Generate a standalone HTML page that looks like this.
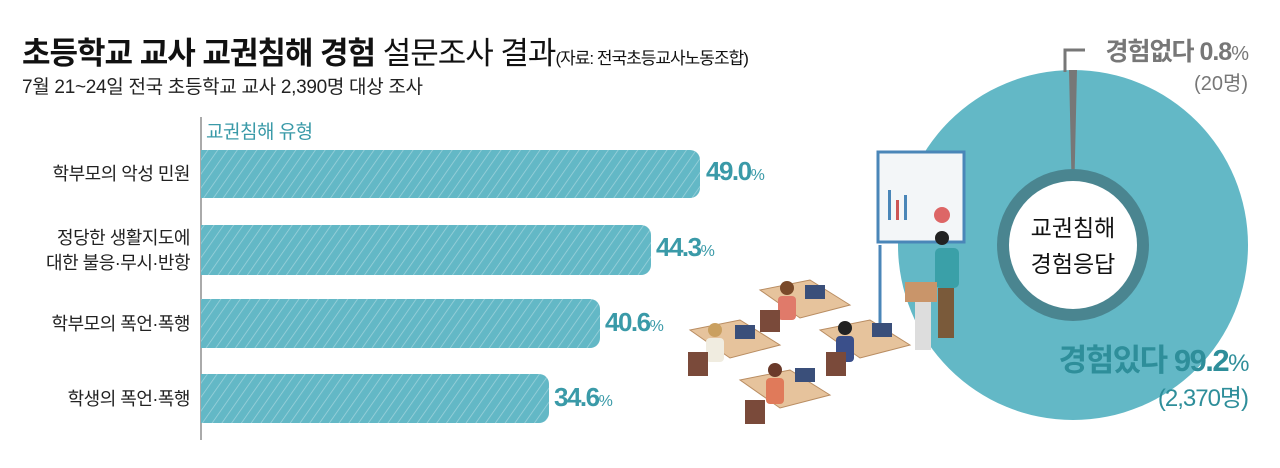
<!DOCTYPE html>
<html><head><meta charset="utf-8"><style>
body{margin:0;width:1280px;height:468px;background:#fff;overflow:hidden;position:relative;font-family:"Liberation Sans","Noto Sans CJK KR",sans-serif;}
.a{position:absolute;white-space:nowrap;}
</style></head><body>
<div class="a" style="left:22px;top:28px;font-size:31px;font-weight:bold;color:#111;letter-spacing:-1px">초등학교 교사 교권침해 경험 <span style="font-weight:normal">설문조사 결과</span><span style="font-weight:normal;font-size:17px;letter-spacing:-1px">(자료: 전국초등교사노동조합)</span></div>
<div class="a" style="left:22px;top:72px;font-size:19px;color:#222;letter-spacing:-0.3px">7월 21~24일 전국 초등학교 교사 2,390명 대상 조사</div>
<div class="a" style="left:206px;top:117px;font-size:19px;color:#3a9aa8;letter-spacing:-0.5px">교권침해 유형</div>
<svg class="a" style="left:0;top:0" width="1280" height="468">
<defs><pattern id="h" width="8" height="8" patternUnits="userSpaceOnUse" patternTransform="rotate(35)"><rect width="8" height="8" fill="#63b8c6"/><line x1="0" y1="0" x2="0" y2="8" stroke="#9fd3dc" stroke-width="1.5"/></pattern></defs>
<line x1="201" y1="117" x2="201" y2="440" stroke="#555" stroke-width="1"/>
<path d="M201 150H690a10 10 0 0 1 10 10V188a10 10 0 0 1-10 10H201Z" fill="url(#h)"/>
<path d="M201 225H641a10 10 0 0 1 10 10V265a10 10 0 0 1-10 10H201Z" fill="url(#h)"/>
<path d="M201 299H590a10 10 0 0 1 10 10V338a10 10 0 0 1-10 10H201Z" fill="url(#h)"/>
<path d="M201 374H539a10 10 0 0 1 10 10V413a10 10 0 0 1-10 10H201Z" fill="url(#h)"/>
<circle cx="1073" cy="245" r="175" fill="#63b8c6"/>
<path d="M1073 245L1069 70L1077 70Z" fill="#777"/>
<polyline points="1065,72 1065,50 1085,50" fill="none" stroke="#777" stroke-width="3"/>
<circle cx="1073" cy="245" r="76" fill="#4a8590"/>
<circle cx="1073" cy="245" r="64" fill="#fff"/>
<rect x="878" y="152" width="86" height="90" fill="#f3f6f8" stroke="#4a86b8" stroke-width="3"/>
<rect x="888" y="190" width="3" height="30" fill="#4a86b8"/><rect x="896" y="200" width="3" height="20" fill="#c55"/><rect x="904" y="195" width="3" height="25" fill="#4a86b8"/>
<circle cx="942" cy="215" r="8" fill="#d66"/>
<line x1="880" y1="245" x2="880" y2="330" stroke="#4a86b8" stroke-width="3"/>
<circle cx="942" cy="238" r="7" fill="#222"/>
<rect x="935" y="248" width="24" height="40" rx="5" fill="#3aa0a8"/>
<rect x="938" y="288" width="16" height="50" fill="#7a5a3a"/>
<rect x="905" y="282" width="32" height="20" fill="#c9956a"/>
<rect x="915" y="302" width="16" height="48" fill="#ddd"/>
<g fill="#e6c39c" stroke="#b98d62" stroke-width="1">
<polygon points="760,290 810,280 850,305 800,318"/>
<polygon points="690,330 740,320 780,345 730,358"/>
<polygon points="820,330 870,320 910,345 860,358"/>
<polygon points="740,380 790,370 830,395 780,408"/>
</g>
<g fill="#3a4f7a"><rect x="805" y="285" width="20" height="14"/><rect x="735" y="325" width="20" height="14"/><rect x="872" y="323" width="20" height="14"/><rect x="795" y="368" width="20" height="14"/></g>
<circle cx="787" cy="288" r="7" fill="#7a4a2a"/><rect x="778" y="296" width="18" height="24" rx="4" fill="#e07a6a"/>
<circle cx="715" cy="330" r="7" fill="#caa060"/><rect x="706" y="338" width="18" height="24" rx="4" fill="#f0ece0"/>
<circle cx="845" cy="328" r="7" fill="#222"/><rect x="836" y="336" width="18" height="26" rx="4" fill="#3a4f8a"/>
<circle cx="775" cy="370" r="7" fill="#6a3a2a"/><rect x="766" y="378" width="18" height="26" rx="4" fill="#e07a5a"/>
<g fill="#7a4a3a"><rect x="760" y="310" width="20" height="22"/><rect x="688" y="352" width="20" height="24"/><rect x="826" y="352" width="20" height="24"/><rect x="745" y="400" width="20" height="24"/></g>
</svg>
<div class="a" style="left:0;width:190px;text-align:right;top:160px;font-size:18px;color:#222;letter-spacing:-0.5px">학부모의 악성 민원</div>
<div class="a" style="left:0;width:190px;text-align:right;top:226px;font-size:18px;color:#222;letter-spacing:-0.5px;line-height:25px">정당한 생활지도에<br>대한 불응·무시·반항</div>
<div class="a" style="left:0;width:190px;text-align:right;top:310px;font-size:18px;color:#222;letter-spacing:-0.5px">학부모의 폭언·폭행</div>
<div class="a" style="left:0;width:190px;text-align:right;top:385px;font-size:18px;color:#222;letter-spacing:-0.5px">학생의 폭언·폭행</div>
<div class="a" style="left:706px;top:156px;font-size:26px;font-weight:bold;color:#3a9aa8;letter-spacing:-1.5px">49.0<span style="font-size:16px;font-weight:normal">%</span></div>
<div class="a" style="left:656px;top:232px;font-size:26px;font-weight:bold;color:#3a9aa8;letter-spacing:-1.5px">44.3<span style="font-size:16px;font-weight:normal">%</span></div>
<div class="a" style="left:605px;top:307px;font-size:26px;font-weight:bold;color:#3a9aa8;letter-spacing:-1.5px">40.6<span style="font-size:16px;font-weight:normal">%</span></div>
<div class="a" style="left:554px;top:382px;font-size:26px;font-weight:bold;color:#3a9aa8;letter-spacing:-1.5px">34.6<span style="font-size:16px;font-weight:normal">%</span></div>
<div class="a" style="right:32px;top:32px;font-size:25px;font-weight:bold;color:#777;letter-spacing:-1px">경험없다 0.8<span style="font-weight:normal;font-size:20px">%</span></div>
<div class="a" style="right:32px;top:67px;font-size:20px;color:#777">(20명)</div>
<div class="a" style="left:1013px;top:210px;width:120px;text-align:center;font-size:23px;color:#111;line-height:36px">교권침해<br>경험응답</div>
<div class="a" style="right:32px;top:335px;font-size:31px;font-weight:bold;color:#2e8e9a;letter-spacing:-1.5px">경험있다 99.2<span style="font-weight:normal;font-size:24px">%</span></div>
<div class="a" style="right:32px;top:378px;font-size:24px;color:#2e8e9a;letter-spacing:-1px">(2,370명)</div>
</body></html>
